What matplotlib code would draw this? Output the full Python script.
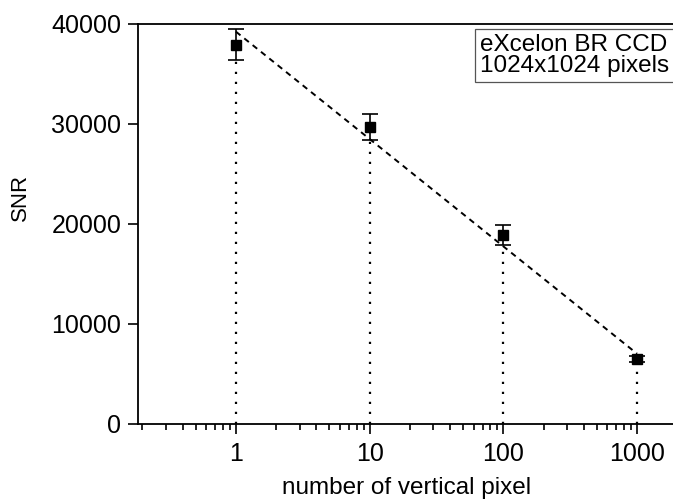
import numpy as np
import matplotlib.pyplot as plt

plt.rcParams['font.family'] = ['Liberation Sans', 'DejaVu Sans']

# data
pixels = [1, 10, 100, 1000]
snr = [37900, 29700, 18900, 6500]
snr_err = [1550, 1300, 1000, 300]

# linear fit in log10(x)
fit_x = np.array([1, 1000])
fit_a = 39200
fit_b = -10730

fig = plt.figure(figsize=(6.73, 5.04), dpi=100)
ax = fig.add_axes([0.205, 0.159, 0.797, 0.794])

# drop lines to the axis
ax.vlines(pixels, 0, np.array(snr) - np.array(snr_err), colors='black',
          linestyles=(0, (1, 3.5)), linewidth=1.6)

ax.plot(fit_x, fit_a + fit_b * np.log10(fit_x), color='black',
        linestyle=(0, (3, 2.5)), linewidth=1.4)

ax.errorbar(pixels, snr, yerr=snr_err, fmt='s', color='black', ms=7,
            elinewidth=1.2, capsize=6, capthick=1.2)

ax.set_xscale('log')
ax.set_xlim(0.185, 1900)
ax.set_ylim(0, 40000)
ax.set_xticks(pixels)
ax.set_xticklabels(['1', '10', '100', '1000'])
ax.set_yticks([0, 10000, 20000, 30000, 40000])
ax.tick_params(axis='both', which='major', direction='out', length=7,
               width=1.2, labelsize=18, pad=5)
ax.tick_params(axis='x', which='minor', direction='out', length=4, width=1.2)
ax.tick_params(axis='x', which='major', pad=6)

for s in ['left', 'bottom', 'top']:
    ax.spines[s].set_linewidth(1.3)
ax.spines['right'].set_visible(False)

ax.set_xlabel('number of vertical pixel', fontsize=17.5, labelpad=8)
ax.set_ylabel('SNR', fontsize=16)
ax.yaxis.set_label_coords(-0.2, 0.567)

ax.text(0.638, 0.975, 'eXcelon BR CCD\n1024x1024 pixels', transform=ax.transAxes,
        fontsize=17.5, va='top', ha='left', linespacing=0.95,
        bbox=dict(boxstyle='square,pad=0.2', fc='white', ec='#555555', lw=0.9))

fig.savefig('out.png', dpi=100)
